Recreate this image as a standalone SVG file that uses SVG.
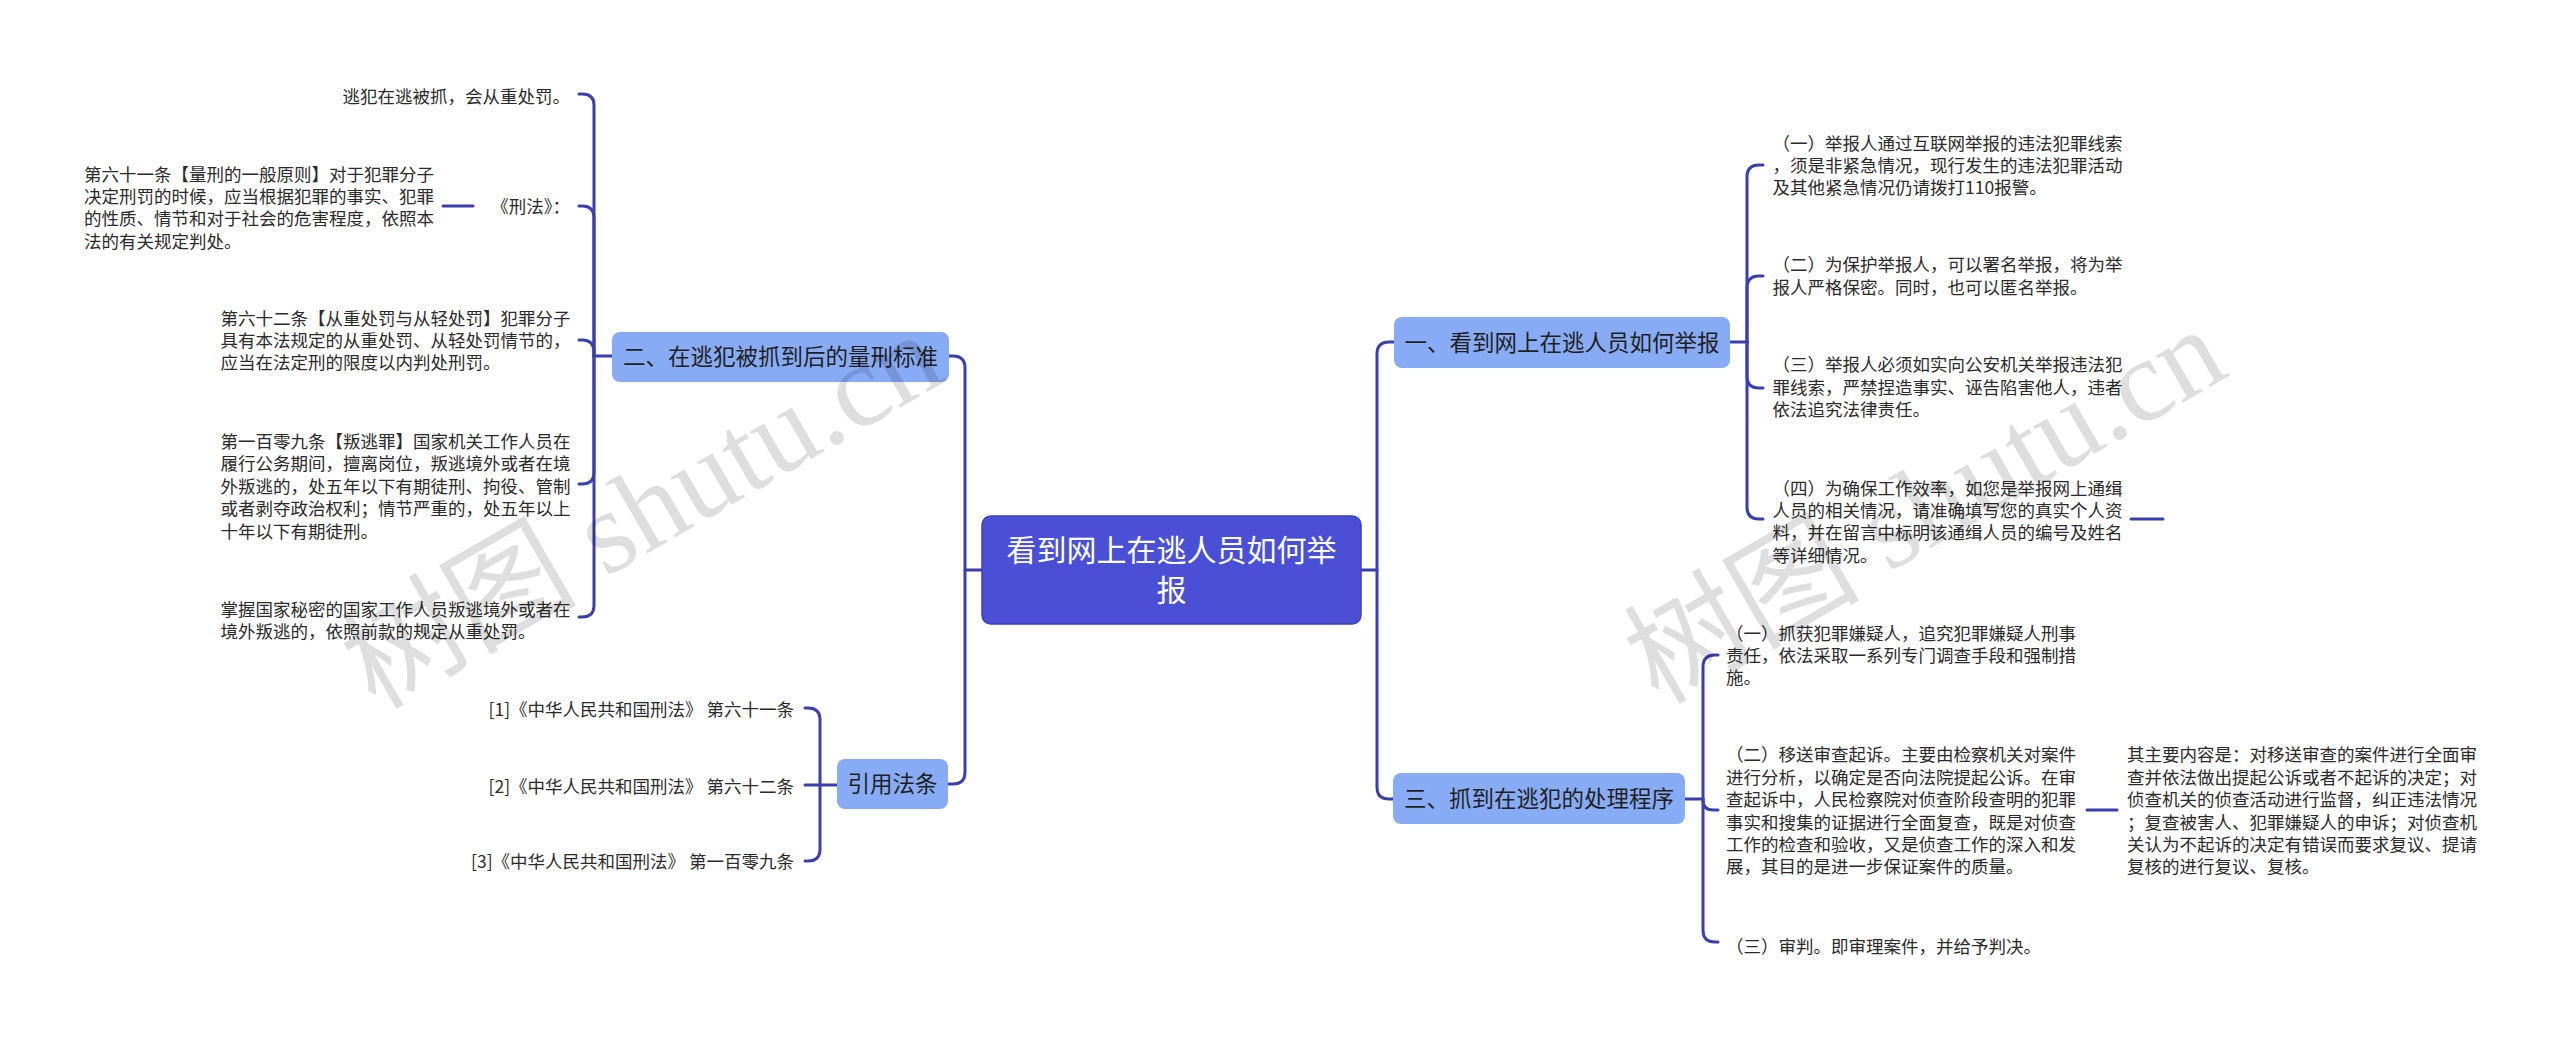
<svg xmlns="http://www.w3.org/2000/svg" width="2560" height="1039" viewBox="0 0 2560 1039">
<style>
.t{font-family:"Noto Sans CJK SC","Liberation Sans",sans-serif;font-size:17.5px;fill:#2b2b2b}
.e{text-anchor:end}
.b{font-family:"Noto Sans CJK SC","Liberation Sans",sans-serif;font-size:22.5px;fill:#1f1f1f;text-anchor:middle}
.c{font-family:"Noto Sans CJK SC","Liberation Sans",sans-serif;font-size:30px;fill:#ffffff;text-anchor:middle}
.box{fill:#88abf6}
.root{fill:#4a50d5;stroke:#3c42b8;stroke-width:1.5}
.ln{fill:none;stroke:#3a3fae;stroke-width:3;stroke-linecap:round;stroke-linejoin:round}
.wm{font-family:"Liberation Serif","Noto Sans CJK SC",serif;font-size:118px;fill:#000;fill-opacity:0.13}
</style>
<rect width="2560" height="1039" fill="#ffffff"/>

<g id="connectors">
<path class="ln" d="M982 570 H965 V368 Q965 356 953 356 H949"/>
<path class="ln" d="M965 570 V772 Q965 784 953 784 H948"/>
<path class="ln" d="M1361 570 H1377 V354 Q1377 342 1389 342 H1394"/>
<path class="ln" d="M1377 570 V787 Q1377 799 1389 799 H1393"/>
<path class="ln" d="M612 356 H594"/>
<path class="ln" d="M594 356 V105 Q594 94 582 94 H579"/>
<path class="ln" d="M594 356 V218 Q594 206 582 206 H579"/>
<path class="ln" d="M594 356 V352 Q594 340 582 340 H579"/>
<path class="ln" d="M594 356 V472 Q594 484 582 484 H579"/>
<path class="ln" d="M594 356 V605 Q594 617 582 617 H579"/>
<path class="ln" d="M443 206 H473"/>
<path class="ln" d="M837 785 H805"/>
<path class="ln" d="M820 785 V720 Q820 708 808 708 H805"/>
<path class="ln" d="M820 785 V849 Q820 861 808 861 H805"/>
<path class="ln" d="M1730 342 H1747"/>
<path class="ln" d="M1747 342 V177 Q1747 165 1759 165 H1763"/>
<path class="ln" d="M1747 342 V288 Q1747 276 1759 276 H1763"/>
<path class="ln" d="M1747 342 V376 Q1747 388 1759 388 H1763"/>
<path class="ln" d="M1747 342 V507 Q1747 519 1759 519 H1763"/>
<path class="ln" d="M2131 519 H2163"/>
<path class="ln" d="M1685 799 H1703"/>
<path class="ln" d="M1703 799 V667 Q1703 655 1715 655 H1718"/>
<path class="ln" d="M1703 799 V800 Q1703 810 1713 810 H1718"/>
<path class="ln" d="M1703 799 V930 Q1703 942 1715 942 H1718"/>
<path class="ln" d="M2087 810 H2117"/>
</g>

<g id="root">
<rect class="root" x="982" y="516" width="379" height="108" rx="9"/>
<text class="c" x="1171.5" y="561">看到网上在逃人员如何举</text>
<text class="c" x="1171.5" y="601">报</text>
</g>

<g id="branch-2">
<rect class="box" x="612" y="332" width="337" height="50" rx="8"/>
<text class="b" x="780.5" y="365">二、在逃犯被抓到后的量刑标准</text>
</g>
<g id="leaf-2-1"><text class="t e" x="570" y="102.5">逃犯在逃被抓，会从重处罚。</text></g>
<g id="leaf-2-2"><text class="t e" x="570" y="213">《刑法》：</text></g>
<g id="leaf-2-2-1">
<text class="t" x="84" y="180.6">第六十一条【量刑的一般原则】对于犯罪分子</text>
<text class="t" x="84" y="203">决定刑罚的时候，应当根据犯罪的事实、犯罪</text>
<text class="t" x="84" y="225.4">的性质、情节和对于社会的危害程度，依照本</text>
<text class="t" x="84" y="247.8">法的有关规定判处。</text>
</g>
<g id="leaf-2-3">
<text class="t" x="220.5" y="324.6">第六十二条【从重处罚与从轻处罚】犯罪分子</text>
<text class="t" x="220.5" y="347">具有本法规定的从重处罚、从轻处罚情节的，</text>
<text class="t" x="220.5" y="369.4">应当在法定刑的限度以内判处刑罚。</text>
</g>
<g id="leaf-2-4">
<text class="t" x="220.5" y="448">第一百零九条【叛逃罪】国家机关工作人员在</text>
<text class="t" x="220.5" y="470.4">履行公务期间，擅离岗位，叛逃境外或者在境</text>
<text class="t" x="220.5" y="492.8">外叛逃的，处五年以下有期徒刑、拘役、管制</text>
<text class="t" x="220.5" y="515.2">或者剥夺政治权利；情节严重的，处五年以上</text>
<text class="t" x="220.5" y="537.6">十年以下有期徒刑。</text>
</g>
<g id="leaf-2-5">
<text class="t" x="220.5" y="615.6">掌握国家秘密的国家工作人员叛逃境外或者在</text>
<text class="t" x="220.5" y="638">境外叛逃的，依照前款的规定从重处罚。</text>
</g>

<g id="branch-cite">
<rect class="box" x="837" y="759" width="111" height="50" rx="8"/>
<text class="b" x="892.5" y="792">引用法条</text>
</g>
<g id="cite-1"><text class="t e" x="794" y="716.3">[1]《中华人民共和国刑法》 第六十一条</text></g>
<g id="cite-2"><text class="t e" x="794" y="793.3">[2]《中华人民共和国刑法》 第六十二条</text></g>
<g id="cite-3"><text class="t e" x="794" y="868">[3]《中华人民共和国刑法》 第一百零九条</text></g>

<g id="branch-1">
<rect class="box" x="1394" y="317" width="336" height="51" rx="8"/>
<text class="b" x="1562" y="350.5">一、看到网上在逃人员如何举报</text>
</g>
<g id="leaf-1-1">
<text class="t" x="1772.5" y="149.6">（一）举报人通过互联网举报的违法犯罪线索</text>
<text class="t" x="1772.5" y="172">，须是非紧急情况，现行发生的违法犯罪活动</text>
<text class="t" x="1772.5" y="194.4">及其他紧急情况仍请拨打110报警。</text>
</g>
<g id="leaf-1-2">
<text class="t" x="1772.5" y="271.3">（二）为保护举报人，可以署名举报，将为举</text>
<text class="t" x="1772.5" y="293.7">报人严格保密。同时，也可以匿名举报。</text>
</g>
<g id="leaf-1-3">
<text class="t" x="1772.5" y="371.3">（三）举报人必须如实向公安机关举报违法犯</text>
<text class="t" x="1772.5" y="393.7">罪线索，严禁捏造事实、诬告陷害他人，违者</text>
<text class="t" x="1772.5" y="416.1">依法追究法律责任。</text>
</g>
<g id="leaf-1-4">
<text class="t" x="1772.5" y="494.6">（四）为确保工作效率，如您是举报网上通缉</text>
<text class="t" x="1772.5" y="517">人员的相关情况，请准确填写您的真实个人资</text>
<text class="t" x="1772.5" y="539.4">料，并在留言中标明该通缉人员的编号及姓名</text>
<text class="t" x="1772.5" y="561.8">等详细情况。</text>
</g>

<g id="branch-3">
<rect class="box" x="1393" y="773" width="292" height="51" rx="8"/>
<text class="b" x="1539" y="807">三、抓到在逃犯的处理程序</text>
</g>
<g id="leaf-3-1">
<text class="t" x="1726" y="639.6">（一）抓获犯罪嫌疑人，追究犯罪嫌疑人刑事</text>
<text class="t" x="1726" y="662">责任，依法采取一系列专门调查手段和强制措</text>
<text class="t" x="1726" y="684.4">施。</text>
</g>
<g id="leaf-3-2">
<text class="t" x="1726" y="761.3">（二）移送审查起诉。主要由检察机关对案件</text>
<text class="t" x="1726" y="783.7">进行分析，以确定是否向法院提起公诉。在审</text>
<text class="t" x="1726" y="806.1">查起诉中，人民检察院对侦查阶段查明的犯罪</text>
<text class="t" x="1726" y="828.5">事实和搜集的证据进行全面复查，既是对侦查</text>
<text class="t" x="1726" y="850.9">工作的检查和验收，又是侦查工作的深入和发</text>
<text class="t" x="1726" y="873.3">展，其目的是进一步保证案件的质量。</text>
</g>
<g id="leaf-3-2-1">
<text class="t" x="2127" y="761.3">其主要内容是：对移送审查的案件进行全面审</text>
<text class="t" x="2127" y="783.7">查并依法做出提起公诉或者不起诉的决定；对</text>
<text class="t" x="2127" y="806.1">侦查机关的侦查活动进行监督，纠正违法情况</text>
<text class="t" x="2127" y="828.5">；复查被害人、犯罪嫌疑人的申诉；对侦查机</text>
<text class="t" x="2127" y="850.9">关认为不起诉的决定有错误而要求复议、提请</text>
<text class="t" x="2127" y="873.3">复核的进行复议、复核。</text>
</g>
<g id="leaf-3-3">
<text class="t" x="1726" y="953">（三）审判。即审理案件，并给予判决。</text>
</g>

<g id="watermarks">
<text class="wm" text-anchor="middle" transform="translate(662 545) rotate(-30)">树图 shutu.cn</text>
<text class="wm" text-anchor="middle" transform="translate(1945 540) rotate(-30)">树图 shutu.cn</text>
</g>
</svg>
